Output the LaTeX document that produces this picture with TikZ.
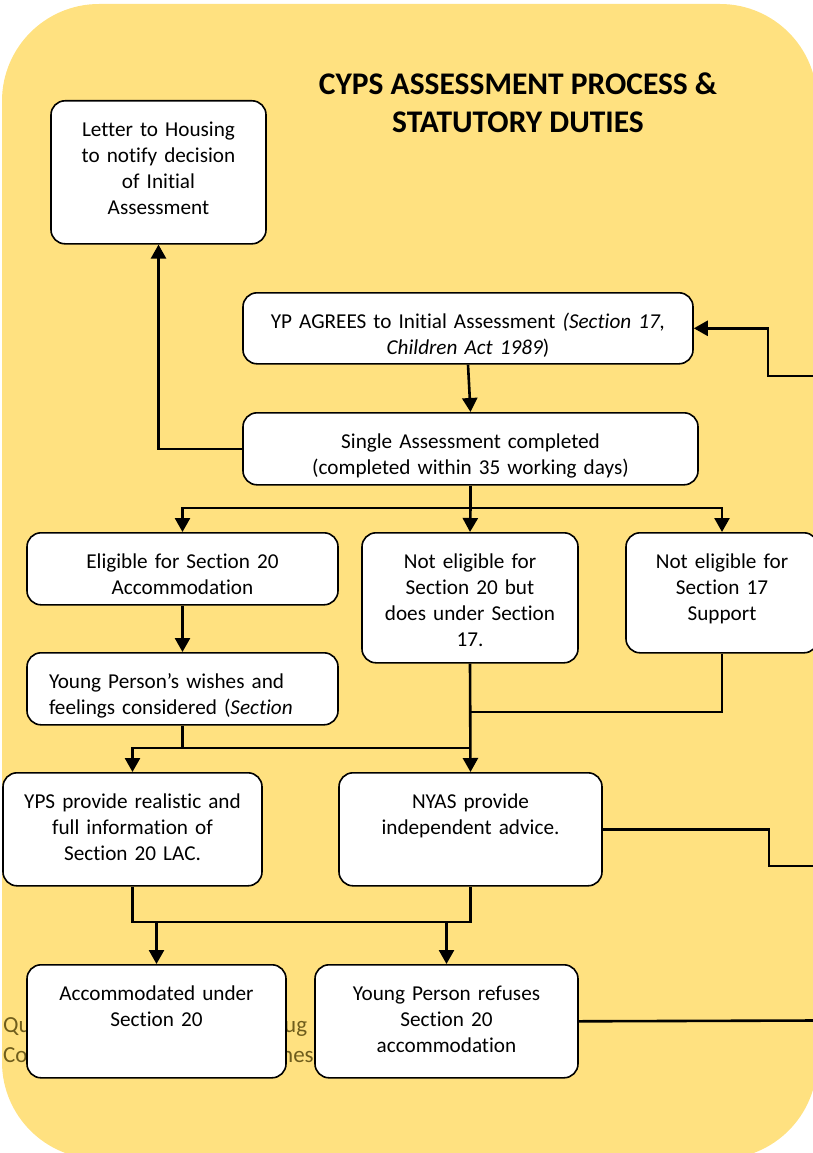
\documentclass[tikz,border=0pt]{standalone}
\usepackage{fontspec}
\setmainfont{Carlito}[Ligatures=NoCommon]
\usetikzlibrary{arrows.meta}
\definecolor{cypsyellow}{HTML}{FFE180}
\definecolor{cypsolive}{HTML}{6F5D1C}
\newcommand{\bodyfont}{\fontsize{21.2}{25.9}\selectfont}
\newcommand{\titlefont}{\fontsize{31.5}{38}\selectfont\bfseries}
\tikzset{
  procbox/.style={draw=black, line width=1.6pt, fill=white, rounded corners=14pt,
    inner sep=0pt, anchor=north, align=center, text height=36pt, font=\bodyfont},
  flow/.style={line width=2.6pt},
  flowarr/.style={flow, -{Triangle[width=15pt,length=14pt]}},
  ghost/.style={text=cypsolive, font=\fontsize{23}{28}\selectfont, inner sep=0pt, anchor=base west}
}

\begin{document}
\begin{tikzpicture}[x=1pt, y=-1pt]
      \useasboundingbox (0,0) rectangle (812,1153);
      \fill[cypsyellow, rounded corners=97pt] (2,4) rectangle (817,1159);
      \node[font=\titlefont, align=center] (title) at (518,103) {CYPS ASSESSMENT PROCESS \&\\ STATUTORY DUTIES};
      % text behind the last row
      \node[ghost] (ghostqu) at (3,1032) {Qu};
      \node[ghost] (ghostug) at (284,1032) {ug};
      \node[ghost] (ghostco) at (3,1062) {Co};
      \node[ghost] (ghostnes) at (281,1062) {nes};
      % boxes
      \node[procbox, text width=215pt, text depth=107pt] (letter) at (158.5,100) {Letter to Housing\\ to notify decision\\ of Initial\\ Assessment};
      \node[procbox, text width=450pt, text depth=35pt] (ypagrees) at (468,292) {YP AGREES to Initial Assessment \textit{(Section 17,}\\ \textit{Children Act 1989})};
      \node[procbox, text width=455pt, text depth=36pt] (single) at (470.5,412) {Single Assessment completed\\ (completed within 35 working days)};
      \node[procbox, text width=311pt, text depth=36pt] (eligible) at (182.5,532) {Eligible for Section 20\\ Accommodation};
      \node[procbox, text width=216pt, text depth=94pt] (noteligA) at (470,532) {Not eligible for\\ Section 20 but\\ does under Section\\ 17.};
      \node[procbox, text width=192pt, text depth=84pt] (noteligB) at (722,532) {Not eligible for\\ Section 17\\ Support};
      \node[procbox, text width=267pt, inner xsep=22pt, align=left, text depth=36pt] (wishes) at (182.5,652) {Young Person’s wishes and\\ feelings considered (\textit{Section}};
      \node[procbox, text width=259pt, text depth=77pt] (yps) at (132.5,772) {YPS provide realistic and\\ full information of\\ Section 20 LAC.};
      \node[procbox, text width=263pt, text depth=77pt] (nyas) at (470.5,772) {NYAS provide\\ independent advice.};
      \node[procbox, text width=259pt, text depth=77pt] (accom) at (156.5,964) {Accommodated under\\ Section 20};
      \node[procbox, text width=263pt, text depth=77pt] (refuses) at (446.5,964) {Young Person refuses\\ Section 20\\ accommodation};
      % connectors
      \draw[flowarr] (ypagrees.south) -- (single.north);
      \draw[flowarr] (single.west) -| (letter.south);
      \coordinate (backin) at (816,376);
      \draw[flowarr] (backin) -- ++(-48,0) |- (ypagrees.east);
      \coordinate (split1) at (470.5,508);
      \draw[flow] (single.south) -- (split1);
      \draw[flowarr] (split1) -- (noteligA.north);
      \draw[flowarr] (split1) -| (eligible.north);
      \draw[flowarr] (split1) -| (noteligB.north);
      \draw[flowarr] (eligible.south) -- (wishes.north);
      \coordinate (split2) at (182.5,748);
      \draw[flow] (wishes.south) -- (split2);
      \draw[flowarr] (split2) -| (yps.north);
      \draw[flow] (split2) -- (split2 -| nyas.north);
      \draw[flowarr] (noteligA.south) -- (nyas.north);
      \coordinate (join1) at (470,712);
      \draw[flow] (noteligB.south) |- (join1);
      \coordinate (nyasout) at (816,866);
      \draw[flow] (nyas.east) -- ++(166,0) |- (nyasout);
      \coordinate (merge) at (300,922);
      \draw[flow] (yps.south) |- (merge) -| (nyas.south);
      \draw[flowarr] (merge -| accom.north) -- (accom.north);
      \draw[flowarr] (merge -| refuses.north) -- (refuses.north);
      \coordinate (refout) at (816,1020.5);
      \draw[flow] (refuses.east) -- (refout);
\end{tikzpicture}
\end{document}
